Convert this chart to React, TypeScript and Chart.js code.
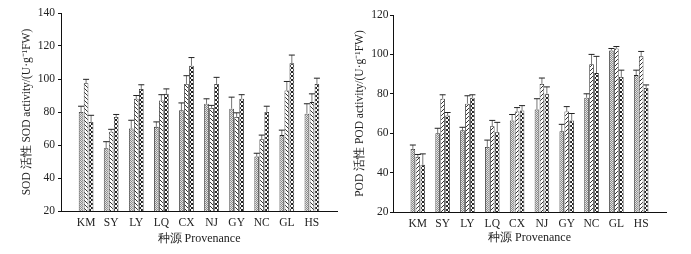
import React, { useEffect, useRef } from "react";
import { Chart, registerables } from "chart.js";

Chart.register(...registerables);

const provenances = ["KM", "SY", "LY", "LQ", "CX", "NJ", "GY", "NC", "GL", "HS"];

// SOD activity (left panel), three treatments per provenance
const sod1 = [80, 58, 70, 71, 81, 85, 82, 53, 66, 79];
const sod1Err = [3.5, 4, 5, 3, 4.5, 3, 7, 2, 3, 6];
const sod2 = [97.5, 68, 88, 87, 97, 82.5, 77, 63.5, 93, 86];
const sod2Err = [2.3, 1.5, 2, 3.5, 5, 1.5, 2.5, 2.5, 5.5, 5];
const sod3 = [74, 77, 94, 91, 108, 97, 88, 80, 109.5, 97];
const sod3Err = [4, 1.5, 2.5, 3, 5, 4, 2.5, 3.5, 5, 3.5];

// POD activity (right panel)
const pod1 = [52, 60, 61.5, 53, 66.5, 72, 61, 78, 102, 89.5];
const pod1Err = [2, 2.5, 1.5, 3.5, 3, 5.5, 3.5, 2, 1, 2.5];
const pod2 = [48, 77.5, 75, 63.5, 71, 85, 71, 95, 103, 99];
const pod2Err = [1.2, 2, 4, 3, 2, 3, 2.5, 5, 1, 2.5];
const pod3 = [44, 69, 78, 60.5, 71.5, 80, 66.5, 90.5, 88.5, 83];
const pod3Err = [5.5, 1.5, 1.5, 5, 2.5, 3.5, 3.5, 8.5, 3.5, 1.5];

const sodTicks = { min: 20, max: 140, step: 20 };
const podTicks = { min: 20, max: 120, step: 20 };

const FONT = "'Liberation Serif', 'Times New Roman', serif";
const TEXT = "#222";

function makePattern(kind: string, dir: number): CanvasPattern | string {
  const c = document.createElement("canvas");
  const size = kind === "dots" ? 2 : 4;
  c.width = size;
  c.height = size;
  const g = c.getContext("2d");
  if (!g) return "#bbb";
  if (kind === "dots") {
    g.fillStyle = "#e4e4e4";
    g.fillRect(0, 0, 2, 2);
    g.fillStyle = "#8a8a8a";
    g.fillRect(0, 0, 1, 1);
    g.fillRect(1, 1, 1, 1);
  } else if (kind === "hatch") {
    g.fillStyle = "#fff";
    g.fillRect(0, 0, 4, 4);
    g.fillStyle = "#333";
    for (let i = 0; i < 4; i++) g.fillRect(dir > 0 ? 3 - i : i, i, 1, 1);
  } else {
    g.fillStyle = "#fff";
    g.fillRect(0, 0, 4, 4);
    g.fillStyle = "#222";
    for (let i = 0; i < 4; i++) {
      g.fillRect(i, i, 1, 1);
      g.fillRect(3 - i, i, 1, 1);
    }
  }
  const p = g.createPattern(c, "repeat");
  return p || "#bbb";
}

const errorBarPlugin = {
  id: "errorBars",
  afterDatasetsDraw(chart: any) {
    const ctx = chart.ctx;
    const yScale = chart.scales.y;
    chart.data.datasets.forEach((ds: any, i: number) => {
      const meta = chart.getDatasetMeta(i);
      meta.data.forEach((bar: any, j: number) => {
        const v = ds.data[j];
        const e = ds.errors ? ds.errors[j] : null;
        if (v == null || e == null) return;
        const x = bar.x;
        const yTop = yScale.getPixelForValue(v);
        const yErr = yScale.getPixelForValue(v + e);
        ctx.save();
        ctx.strokeStyle = "#777";
        ctx.lineWidth = 1;
        ctx.beginPath();
        ctx.moveTo(x, yTop);
        ctx.lineTo(x, yErr);
        ctx.stroke();
        ctx.strokeStyle = "#222";
        ctx.beginPath();
        ctx.moveTo(x - 3, yErr);
        ctx.lineTo(x + 3, yErr);
        ctx.stroke();
        ctx.restore();
      });
    });
  },
};

function pad(arr: number[]) {
  return [null, ...arr, null];
}

interface PanelCfg {
  series: number[][];
  errors: number[][];
  ticks: { min: number; max: number; step: number };
  yTitle: string;
  hatchDir: number;
  padding: { left: number; right: number; top: number; bottom: number };
  yWidth: number;
  xHeight: number;
  yTickPad: number;
  xTitleBottom: number;
}

function buildChart(canvas: HTMLCanvasElement, cfg: PanelCfg) {
  const fills = [
    makePattern("dots", 0),
    makePattern("hatch", cfg.hatchDir),
    makePattern("cross", 0),
  ];
  const labels = ["", ...provenances, ""];
  return new Chart(canvas, {
    type: "bar",
    data: {
      labels,
      datasets: cfg.series.map((s, i) => ({
        data: pad(s),
        errors: pad(cfg.errors[i]),
        backgroundColor: fills[i],
        borderColor: "#222",
        borderWidth: 0.8,
        categoryPercentage: 0.6,
        barPercentage: 0.92,
      })) as any,
    },
    options: {
      responsive: false,
      animation: false,
      events: [],
      layout: { padding: cfg.padding },
      plugins: {
        legend: { display: false },
        tooltip: { enabled: false },
      },
      scales: {
        x: {
          type: "category",
          offset: false,
          grid: { display: false, drawTicks: false },
          border: { display: true, color: "#111", width: 1 },
          ticks: {
            autoSkip: false,
            maxRotation: 0,
            padding: 5,
            color: TEXT,
            font: { family: FONT, size: 11.5 },
          },
          title: {
            display: true,
            text: "种源 Provenance",
            color: TEXT,
            font: { family: FONT, size: 12 },
            padding: { top: 0, bottom: cfg.xTitleBottom },
          },
          afterFit: (scale: any) => {
            scale.height = cfg.xHeight;
          },
        },
        y: {
          min: cfg.ticks.min,
          max: cfg.ticks.max,
          grid: {
            display: true,
            drawOnChartArea: false,
            drawTicks: true,
            tickLength: 3,
            color: "#111",
          },
          border: { display: true, color: "#111", width: 1 },
          ticks: {
            stepSize: cfg.ticks.step,
            padding: cfg.yTickPad,
            color: TEXT,
            font: { family: FONT, size: 11.5 },
          },
          title: {
            display: true,
            text: cfg.yTitle,
            color: TEXT,
            font: { family: FONT, size: 11.5 },
            padding: { top: 4, bottom: 0 },
          },
          afterFit: (scale: any) => {
            scale.width = cfg.yWidth;
          },
        },
      },
    } as any,
    plugins: [errorBarPlugin],
  });
}

export default function App() {
  const leftRef = useRef<HTMLCanvasElement>(null);
  const rightRef = useRef<HTMLCanvasElement>(null);

  useEffect(() => {
    const charts: Chart[] = [];
    if (leftRef.current) {
      charts.push(
        buildChart(leftRef.current, {
          series: [sod1, sod2, sod3],
          errors: [sod1Err, sod2Err, sod3Err],
          ticks: sodTicks,
          yTitle: "SOD 活性 SOD activity/(U·g⁻¹FW)",
          hatchDir: -1,
          padding: { left: 16, right: 8, top: 13, bottom: 0 },
          yWidth: 45,
          xHeight: 43,
          yTickPad: 3,
          xTitleBottom: 8,
        })
      );
    }
    if (rightRef.current) {
      charts.push(
        buildChart(rightRef.current, {
          series: [pod1, pod2, pod3],
          errors: [pod1Err, pod2Err, pod3Err],
          ticks: podTicks,
          yTitle: "POD 活性 POD activity/(U·g⁻¹FW)",
          hatchDir: 1,
          padding: { left: 4, right: 25, top: 15, bottom: 0 },
          yWidth: 44,
          xHeight: 42,
          yTickPad: 1.5,
          xTitleBottom: 9,
        })
      );
    }
    return () => charts.forEach((c) => c.destroy());
  }, []);

  return (
    <div
      style={{
        position: "absolute",
        left: 0,
        top: 0,
        width: 691,
        height: 254,
        background: "#fff",
        overflow: "hidden",
      }}
    >
      <canvas
        ref={leftRef}
        width={345}
        height={254}
        style={{ position: "absolute", left: 0, top: 0, width: 345, height: 254 }}
      />
      <canvas
        ref={rightRef}
        width={346}
        height={254}
        style={{ position: "absolute", left: 345, top: 0, width: 346, height: 254 }}
      />
    </div>
  );
}
